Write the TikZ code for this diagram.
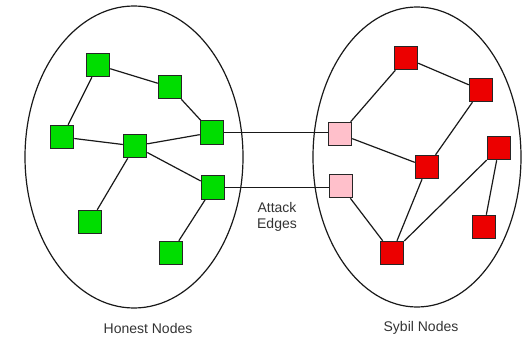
\documentclass[tikz,border=0pt]{standalone}
\usepackage{fontspec}
\setmainfont{Liberation Sans}
\begin{document}
\begin{tikzpicture}[x=1pt,y=-1pt,
  nd/.style={draw=black!85,line width=1pt,minimum size=23.5pt,inner sep=0pt},
  honest/.style={nd,fill={rgb,255:red,0;green,221;blue,0}},
  sybil/.style={nd,fill={rgb,255:red,236;green,0;blue,0}},
  entry/.style={nd,fill={rgb,255:red,255;green,192;blue,203}},
  edge/.style={draw=black!90,line width=1.2pt},
  region/.style={draw=black!90,line width=1.2pt},
  lbl/.style={font=\fontsize{14}{16.5}\selectfont,text=black!80,align=center}]
\useasboundingbox (0,0) rectangle (522,337);
\draw[region] (134,157) ellipse [x radius=109, y radius=151];
\draw[region] (417,157) ellipse [x radius=104, y radius=150];
% honest nodes
\node[honest] (A) at (98,65) {};
\node[honest] (B) at (170,87) {};
\node[honest] (C) at (212,132.5) {};
\node[honest] (D) at (62,137) {};
\node[honest] (E) at (135,146) {};
\node[honest] (F) at (213,187.5) {};
\node[honest] (G) at (90,222) {};
\node[honest] (H) at (171,253) {};
% sybil nodes
\node[entry] (P1) at (340,134) {};
\node[entry] (P2) at (341,186) {};
\node[sybil] (R1) at (406,58) {};
\node[sybil] (R2) at (481,90) {};
\node[sybil] (R3) at (427,167) {};
\node[sybil] (R4) at (499,148) {};
\node[sybil] (R5) at (484,227) {};
\node[sybil] (R6) at (392,253) {};
% edges
\draw[edge] (A) -- (B);
\draw[edge] (B) -- (C);
\draw[edge] (A) -- (D);
\draw[edge] (D) -- (E);
\draw[edge] (E) -- (C);
\draw[edge] (E) -- (F);
\draw[edge] (E) -- (G);
\draw[edge] (F) -- (H);
\draw[edge] (P1) -- (R1);
\draw[edge] (P1) -- (R3);
\draw[edge] (R1) -- (R2);
\draw[edge] (R2) -- (R3);
\draw[edge] (R3) -- (R6);
\draw[edge] (P2) -- (R6);
\draw[edge] (R6) -- (R4);
\draw[edge] (R4) -- (R5);
% attack edges
\draw[edge] (C) -- (C -| P1.west);
\draw[edge] (F) -- (F -| P2.west);
% labels
\node[lbl] (atk) at (277,217) {Attack\\Edges};
\node[lbl] (hn) at (148,328) {Honest Nodes};
\node[lbl] (sn) at (421,328) {Sybil Nodes};
\end{tikzpicture}
\end{document}
